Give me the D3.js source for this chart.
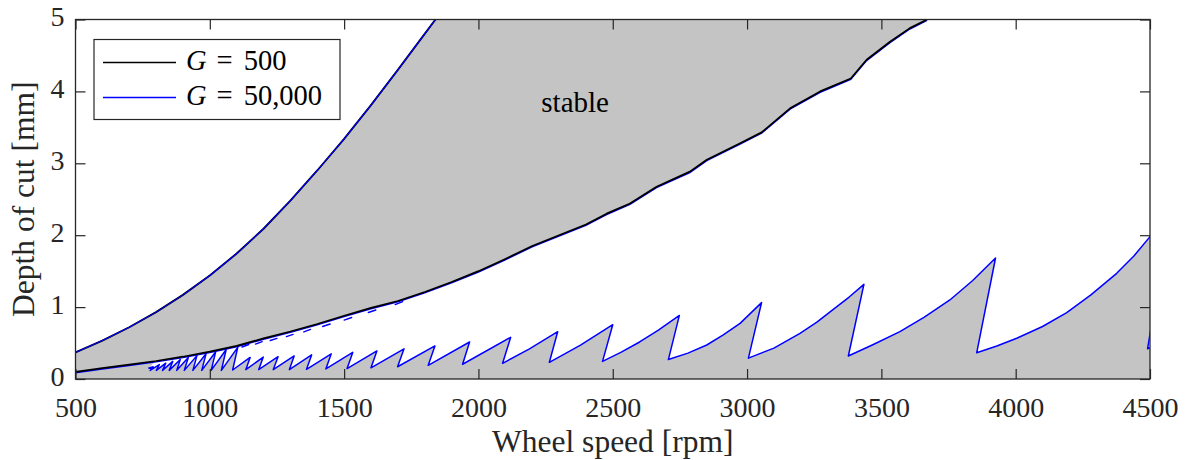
<!DOCTYPE html>
<html>
<head>
<meta charset="utf-8">
<script src="https://cdn.jsdelivr.net/npm/d3@7"></script>
<style>
  html, body { margin: 0; padding: 0; background: #fff; }
  svg { display: block; }
  text { font-family: "Liberation Serif", "Times New Roman", serif; fill: #262626; }
</style>
</head>
<body>
<svg id="chart" width="1192" height="460"></svg>
<script>
// Axis ticks
const rpmTicks = [500, 1000, 1500, 2000, 2500, 3000, 3500, 4000, 4500];
const depthTicks = [0, 1, 2, 3, 4, 5];

// Left (upper) stability boundary, identical for both gains
const upperRpm   = [500, 600, 700, 800, 900, 1000, 1100, 1200, 1300, 1400, 1500, 1600, 1700, 1800, 1840];
const upperDepth = [0.37, 0.535, 0.72, 0.93, 1.17, 1.44, 1.745, 2.09, 2.48, 2.9, 3.34, 3.81, 4.3, 4.8, 5.0];

// Right (lower) stability boundary
const lowerRpm   = [500, 600, 700, 800, 900, 1000, 1100, 1200, 1300, 1400, 1500, 1600, 1700, 1800, 1900, 2000,
                    2100, 2200, 2300, 2400, 2477, 2564, 2663, 2787, 2850, 2974, 3054, 3160, 3272, 3386, 3445,
                    3532, 3606, 3670];
const lowerDepth = [0.10, 0.15, 0.20, 0.25, 0.31, 0.38, 0.46, 0.565, 0.66, 0.765, 0.88, 0.99, 1.085, 1.21, 1.35, 1.5,
                    1.67, 1.85, 2.0, 2.15, 2.30, 2.44, 2.675, 2.884, 3.05, 3.28, 3.43, 3.765, 4.0, 4.18, 4.44,
                    4.69, 4.88, 5.0];

// Lobed boundary for G = 50,000 (trough -> rising branch -> peak -> drop back to next trough)
const sawRpm = [771, 789, 778, 812, 801, 836, 824, 862, 849, 890, 877, 920, 905, 952, 937, 986, 970, 1022,
                1005, 1061, 1043, 1104, 1085, 1150, 1134, 1199, 1182, 1254, 1236, 1314, 1296, 1379, 1360,
                1452, 1432, 1532, 1511, 1622, 1600, 1723, 1699, 1838, 1813, 1967, 1941, 2120,
                2090, 2190, 2295,
                2264, 2380, 2500,
                2462, 2530, 2600, 2670, 2748,
                2707, 2780, 2850, 2910, 2974, 3054,
                3005, 3100, 3197, 3260, 3321, 3380, 3435,
                3377, 3470, 3569, 3660, 3755, 3840, 3925,
                3855, 3930, 4004, 4100, 4190, 4280, 4376, 4440, 4500, 4575,
                4491, 4530];
const sawDepth = [0.15, 0.17, 0.12, 0.20, 0.12, 0.22, 0.12, 0.245, 0.12, 0.27, 0.12, 0.30, 0.12, 0.325, 0.12, 0.35, 0.12, 0.38,
                  0.12, 0.41, 0.12, 0.44, 0.125, 0.30, 0.13, 0.305, 0.13, 0.31, 0.13, 0.32, 0.13, 0.335, 0.135,
                  0.35, 0.14, 0.37, 0.145, 0.39, 0.155, 0.42, 0.17, 0.46, 0.19, 0.515, 0.205, 0.58,
                  0.218, 0.42, 0.658,
                  0.232, 0.47, 0.755,
                  0.245, 0.37, 0.515, 0.68, 0.884,
                  0.27, 0.36, 0.473, 0.61, 0.774, 1.062,
                  0.29, 0.43, 0.635, 0.79, 0.969, 1.14, 1.317,
                  0.32, 0.48, 0.658, 0.86, 1.099, 1.37, 1.683,
                  0.366, 0.46, 0.566, 0.73, 0.922, 1.17, 1.47, 1.71, 1.98, 2.32,
                  0.42, 0.48];

// Short G = 50,000 segments hugging the lower boundary
const dashStartRpm   = [1120, 1170, 1225, 1285, 1350, 1420, 1500, 1590, 1690];
const dashStartDepth = [0.445, 0.485, 0.535, 0.59, 0.655, 0.73, 0.82, 0.925, 1.035];
const dashEndRpm     = [1145, 1195, 1250, 1310, 1375, 1448, 1528, 1618, 1718];
const dashEndDepth   = [0.48, 0.52, 0.565, 0.62, 0.69, 0.765, 0.855, 0.96, 1.075];

const legendLabels = [["G", "500"], ["G", "50,000"]];
const legendColors = ["#000000", "#0000ff"];

const svg = d3.select("#chart");
const x = d3.scaleLinear().domain([500, 4500]).range([75.5, 1150]);
const y = d3.scaleLinear().domain([0, 5]).range([379, 19.5]);
const [x0, x1] = x.range();
const [y0, y1] = y.range();

const pts = (xs, ys) => xs.map((v, i) => [v, ys[i]]);
const line = d3.line().x(d => x(d[0])).y(d => y(d[1]));

svg.append("clipPath").attr("id", "plot-clip")
  .append("rect").attr("x", x0).attr("y", y1).attr("width", x1 - x0).attr("height", y0 - y1);

const plot = svg.append("g").attr("clip-path", "url(#plot-clip)");

const upper = pts(upperRpm, upperDepth);
const lower = pts(lowerRpm, lowerDepth);
const saw = pts(sawRpm, sawDepth);
const [dMin, dMax] = y.domain();
const [rMin, rMax] = x.domain();

// Stable region: everything beneath the upper boundary
const grayPoly = [[rMin, dMin], ...upper, [rMax, dMax], [rMax, dMin]];
plot.append("path").attr("d", line(grayPoly) + "Z").attr("fill", "#c4c4c4").attr("stroke", "none");

// Unstable band between the lobes and the lower boundary
const lastSaw = saw[saw.length - 1];
const lowerBack = lower.filter(d => d[0] >= saw[0][0]).reverse();
const whitePoly = [...saw, [lastSaw[0], dMax], ...lowerBack];
plot.append("path").attr("d", line(whitePoly) + "Z")
  .attr("fill", "#ffffff").attr("fill-rule", "evenodd").attr("stroke", "none");

// G = 50,000 lobes
plot.append("path").attr("d", line(saw)).attr("fill", "none")
  .attr("stroke", "#0000ff").attr("stroke-width", 1.5).attr("stroke-linejoin", "round");
plot.append("g").selectAll("path")
  .data(dashStartRpm.map((r, i) => [[r, dashStartDepth[i]], [dashEndRpm[i], dashEndDepth[i]]]))
  .join("path").attr("d", d => line(d)).attr("fill", "none")
  .attr("stroke", "#0000ff").attr("stroke-width", 1.4).attr("stroke-linecap", "round");

// Boundaries shared by both gains
plot.append("path").attr("d", line(lower)).attr("fill", "none")
  .attr("stroke", "#0000ff").attr("stroke-width", 1.4).attr("transform", "translate(0,0.9)");
plot.append("path").attr("d", line(lower)).attr("fill", "none")
  .attr("stroke", "#000000").attr("stroke-width", 1.7).attr("stroke-linejoin", "round");
plot.append("path").attr("d", line(upper)).attr("fill", "none")
  .attr("stroke", "#000000").attr("stroke-width", 1.9).attr("stroke-linejoin", "round");
plot.append("path").attr("d", line(upper)).attr("fill", "none")
  .attr("stroke", "#0000ff").attr("stroke-width", 1.1).attr("stroke-linejoin", "round");

// Region label
svg.append("text").attr("x", x(2360)).attr("y", y(3.72))
  .attr("text-anchor", "middle").attr("font-size", 29).style("fill", "#000").text("stable");

// Axes with inward ticks
const axisColor = "#262626";
const styleAxis = g => {
  g.select(".domain").remove();
  g.selectAll(".tick line").attr("stroke", axisColor).attr("stroke-width", 1.2);
  g.selectAll(".tick text").attr("font-size", 28).attr("font-family", "Liberation Serif, serif").attr("fill", axisColor);
};
const fmt = d3.format("d");
svg.append("g").attr("transform", `translate(0,${y0})`)
  .call(d3.axisBottom(x).tickValues(rpmTicks).tickFormat(fmt).tickSizeInner(-10).tickSizeOuter(0).tickPadding(18))
  .call(styleAxis);
svg.append("g").attr("transform", `translate(0,${y1})`)
  .call(d3.axisTop(x).tickValues(rpmTicks).tickSizeInner(-10).tickSizeOuter(0).tickFormat(""))
  .call(styleAxis);
svg.append("g").attr("transform", `translate(${x0},0)`)
  .call(d3.axisLeft(y).tickValues(depthTicks).tickFormat(fmt).tickSizeInner(-10).tickSizeOuter(0).tickPadding(11))
  .call(styleAxis)
  .call(g => g.selectAll(".tick text").attr("dy", "0.22em"));
svg.append("g").attr("transform", `translate(${x1},0)`)
  .call(d3.axisRight(y).tickValues(depthTicks).tickSizeInner(-10).tickSizeOuter(0).tickFormat(""))
  .call(styleAxis);

svg.append("rect").attr("x", x0).attr("y", y1).attr("width", x1 - x0).attr("height", y0 - y1)
  .attr("fill", "none").attr("stroke", axisColor).attr("stroke-width", 1.3);

// Axis titles
svg.append("text").attr("x", (x0 + x1) / 2).attr("y", 451.5).attr("text-anchor", "middle")
  .attr("font-size", 31.5).text("Wheel speed [rpm]");
svg.append("text").attr("transform", `translate(34,${(y0 + y1) / 2}) rotate(-90)`)
  .attr("text-anchor", "middle").attr("font-size", 31.5).text("Depth of cut [mm]");

// Legend
const legend = svg.append("g").attr("transform", "translate(94,39.5)");
legend.append("rect").attr("width", 246).attr("height", 80)
  .attr("fill", "#fff").attr("stroke", axisColor).attr("stroke-width", 1.2);
legendLabels.forEach((lab, i) => {
  const ly = 23 + i * 35;
  legend.append("line").attr("x1", 9).attr("x2", 82).attr("y1", ly).attr("y2", ly)
    .attr("stroke", legendColors[i]).attr("stroke-width", 1.5);
  const t = legend.append("text").attr("x", 92).attr("y", ly + 7.5).attr("font-size", 28.5).style("fill", "#000");
  t.append("tspan").attr("font-style", "italic").text(lab[0]);
  t.append("tspan").attr("dx", 10).text("=");
  t.append("tspan").attr("dx", 11).text(lab[1]);
});
</script>
</body>
</html>
